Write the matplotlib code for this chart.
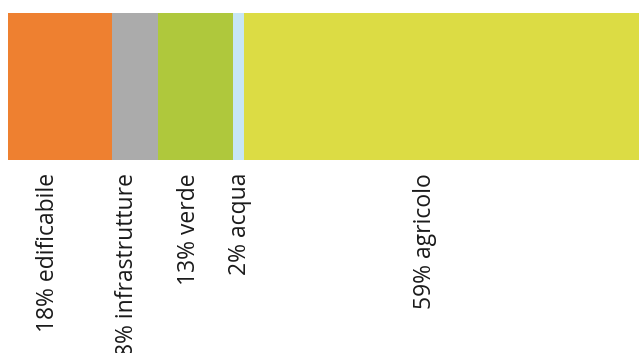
import matplotlib

matplotlib.use("Agg")
import matplotlib.pyplot as plt
from matplotlib.transforms import blended_transform_factory

# land use shares (drawn widths in %, the yellow runs past its label value in the original)
categories = ["edificabile", "infrastrutture", "verde", "acqua", "agricolo"]
shares = [18, 8, 13, 2, 59]
drawn_widths = [18, 8, 13, 2, 68.5]
colors = ["#EE8030", "#ABABAB", "#AFC83C", "#C8E6F5", "#DCDC44"]

# label anchor offsets from segment centres (layout only)
label_shift = [-2.0, -1.35, -1.1, 0.25, 1.8]

plt.rcParams["font.family"] = ["Open Sans", "DejaVu Sans"]

fig = plt.figure(figsize=(6.39, 3.53), dpi=100)
ax = fig.add_axes([8 / 639, (353 - 160) / 353, 631 / 639, 147 / 353])

left = 0.0
for w, c in zip(drawn_widths, colors):
    ax.barh(0, w, left=left, height=1.0, color=c, edgecolor="none")
    left += w

ax.set_xlim(0, sum(drawn_widths))
ax.set_ylim(-0.5, 0.5)
ax.axis("off")

trans = blended_transform_factory(ax.transData, ax.transAxes)
label_left = 0.0
for i, (name, pct) in enumerate(zip(categories, shares)):
    x = label_left + pct / 2 + label_shift[i]
    label_left += pct
    ax.text(x, -0.088, f"{pct}% {name}", rotation=90, ha="center", va="top",
            fontsize=16.5, color="#1a1a1a", transform=trans, clip_on=False)

fig.savefig("out.png", dpi=100)
plt.close(fig)
